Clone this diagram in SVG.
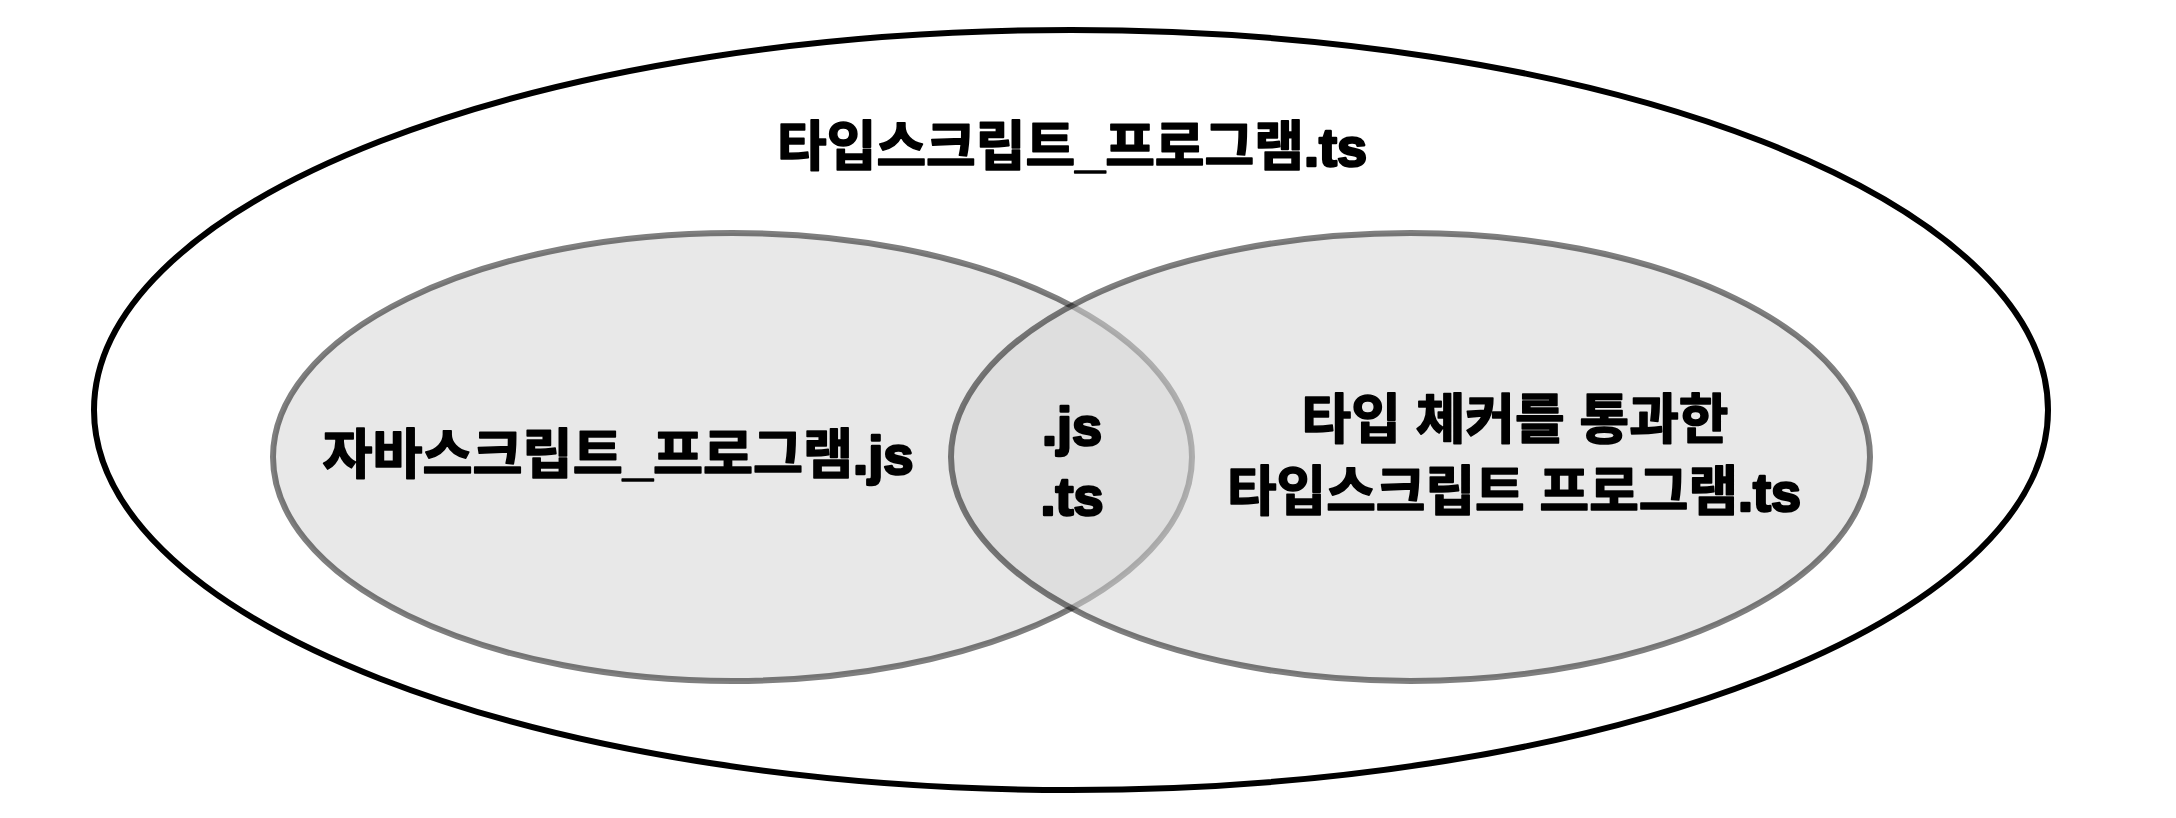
<svg xmlns="http://www.w3.org/2000/svg" width="2176" height="818" viewBox="0 0 2176 818">
  <style>
    .outer { fill: #ffffff; stroke: #000000; stroke-width: 6; }
    .set { fill: #d6d6d6; fill-opacity: 0.55; stroke: #000000; stroke-opacity: 0.5; stroke-width: 6; }
    .lbl { font-family: "Liberation Sans", "Noto Sans CJK KR", sans-serif; font-weight: bold; font-size: 54px; fill: #000000; stroke: #000000; stroke-width: 1.6; stroke-linejoin: round; text-anchor: middle; }
    .lat { stroke-width: 2.6; }
  </style>
  <rect width="2176" height="818" fill="#ffffff"/>
  <g id="typescript-programs">
    <ellipse class="outer" cx="1071" cy="410" rx="977" ry="380"/>
    <text class="lbl" x="1072" y="166" textLength="590" lengthAdjust="spacingAndGlyphs">타입스크립트_프로그램<tspan class="lat">.ts</tspan></text>
  </g>
  <g id="javascript-programs">
    <ellipse class="set" cx="732.5" cy="457" rx="459.5" ry="224"/>
    <text class="lbl" x="618" y="474" textLength="591" lengthAdjust="spacingAndGlyphs">자바스크립트_프로그램<tspan class="lat">.js</tspan></text>
  </g>
  <g id="type-checked-programs">
    <ellipse class="set" cx="1410.5" cy="457" rx="459.5" ry="224"/>
    <text class="lbl" x="1515" y="439" textLength="427" lengthAdjust="spacingAndGlyphs">타입 체커를 통과한</text>
    <text class="lbl" x="1514" y="511" textLength="574" lengthAdjust="spacingAndGlyphs">타입스크립트 프로그램<tspan class="lat">.ts</tspan></text>
  </g>
  <g id="overlap">
    <text class="lbl lat" x="1072" y="445">.js</text>
    <text class="lbl lat" x="1072" y="515">.ts</text>
  </g>
  <g id="connectors"/>
</svg>
